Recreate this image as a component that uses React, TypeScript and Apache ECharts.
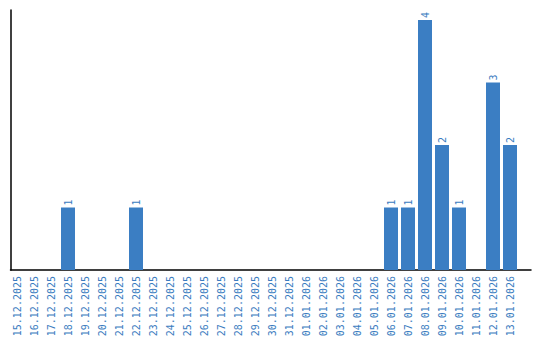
import React, { useEffect, useRef } from "react";
import * as echarts from "echarts";

const categories: string[] = [
  "15.12.2025", "16.12.2025", "17.12.2025", "18.12.2025", "19.12.2025",
  "20.12.2025", "21.12.2025", "22.12.2025", "23.12.2025", "24.12.2025",
  "25.12.2025", "26.12.2025", "27.12.2025", "28.12.2025", "29.12.2025",
  "30.12.2025", "31.12.2025", "01.01.2026", "02.01.2026", "03.01.2026",
  "04.01.2026", "05.01.2026", "06.01.2026", "07.01.2026", "08.01.2026",
  "09.01.2026", "10.01.2026", "11.01.2026", "12.01.2026", "13.01.2026",
];

const counts: (number | null)[] = [
  null, null, null, 1, null,
  null, null, 1, null, null,
  null, null, null, null, null,
  null, null, null, null, null,
  null, null, 1, 1, 4,
  2, 1, null, 3, 2,
];

const BLUE = "#3b7ec3";
const TEXT_BLUE = "#3a7cc0";

export default function App() {
  const ref = useRef<HTMLDivElement>(null);
  useEffect(() => {
    if (!ref.current) return;
    const chart = echarts.init(ref.current, null, { renderer: "svg" });
    chart.setOption({
      animation: false,
      backgroundColor: "#ffffff",
      grid: [
        { left: 8.5, width: 510, top: 10, height: 260 },
        { left: 10.5, right: 9, top: 10, height: 260 },
      ],
      xAxis: [
        {
          type: "category",
          gridIndex: 0,
          data: categories,
          axisLine: { show: false },
          axisTick: { show: false },
          axisLabel: {
            rotate: 90,
            interval: 0,
            margin: 6,
            color: TEXT_BLUE,
            fontFamily: "DejaVu Sans Mono",
            fontSize: 10,
          },
        },
        {
          type: "value",
          gridIndex: 1,
          min: 0,
          max: 1,
          axisLine: { show: true, lineStyle: { color: "#000", width: 1.5 } },
          axisTick: { show: false },
          axisLabel: { show: false },
          splitLine: { show: false },
        },
      ],
      yAxis: [
        {
          type: "value",
          gridIndex: 0,
          min: 0,
          max: 4.16,
          show: false,
          splitLine: { show: false },
        },
        {
          type: "value",
          gridIndex: 1,
          min: 0,
          max: 1,
          axisLine: { show: true, lineStyle: { color: "#000", width: 1.5 } },
          axisTick: { show: false },
          axisLabel: { show: false },
          splitLine: { show: false },
        },
      ],
      series: [
        {
          type: "bar",
          xAxisIndex: 0,
          yAxisIndex: 0,
          data: counts,
          barWidth: 14,
          itemStyle: { color: BLUE },
          label: {
            show: true,
            position: "top",
            rotate: 90,
            align: "left",
            verticalAlign: "middle",
            distance: 2,
            color: TEXT_BLUE,
            fontFamily: "DejaVu Sans Mono",
            fontSize: 10,
          },
        },
      ],
    });
    return () => chart.dispose();
  }, []);
  return (
    <div
      ref={ref}
      style={{ position: "absolute", left: 0, top: 0, width: 540, height: 340 }}
    />
  );
}
